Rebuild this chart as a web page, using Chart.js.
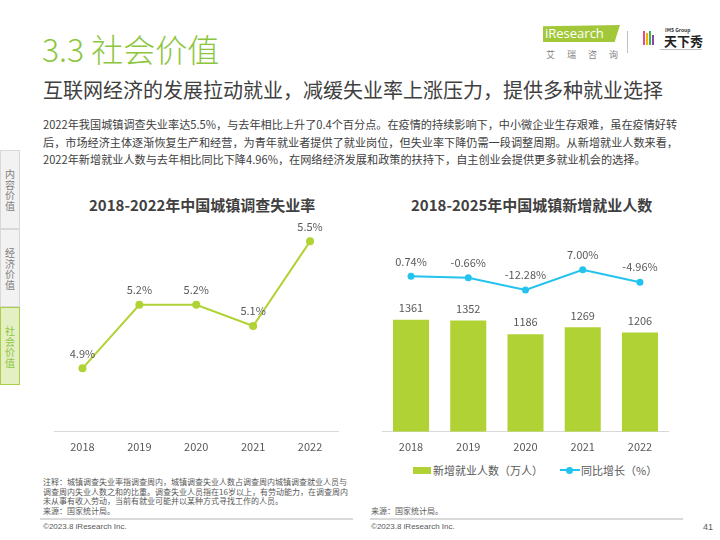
<!DOCTYPE html>
<html>
<head>
<meta charset="utf-8">
<script src="https://cdn.jsdelivr.net/npm/chart.js@4"></script>
<style>
  body { margin: 0; width: 720px; height: 540px; overflow: hidden; background: #fff;
         font-family: "Microsoft YaHei", "Noto Sans CJK SC", sans-serif; color: #404040; }
  .abs { position: absolute; white-space: nowrap; }
  .tab { position: absolute; left: 0; width: 20px; background: #f2f2f2; border: 1px solid #d9d9d9;
         color: #7f7f7f; font-size: 10px; line-height: 10.5px; text-align: center;
         box-sizing: border-box; padding-top: 18px; }
  .tab.on { background: #e4efc4; border-color: #a8cf45; color: #8cc63f; }
  .para { font-size: 11.15px; left: 43px; }
  .note { font-size: 8px; color: #595959; }
  .sep { position: absolute; height: 2px; background: #d9d9d9; }
</style>
</head>
<body>
<div class="abs" style="left:42px;top:25px;font-size:32px;color:#8cc63f;font-weight:300;">3.3 社会价值</div>

<div class="abs" style="left:543px;top:25px;width:75px;height:17px;background:#a2c83a;clip-path:polygon(0 8%,100% 0,93% 100%,0 100%);color:#fff;font-size:13px;line-height:17px;font-family:'Open Sans',sans-serif;padding-left:2px;">iResearch</div>
<div class="abs" style="left:546px;top:48px;font-size:9px;color:#7f7f7f;letter-spacing:12px;">艾瑞咨询</div>
<div class="abs" style="left:627px;top:31px;width:1px;height:22px;background:#bfbfbf;"></div>
<div class="abs" style="left:643px;top:31px;width:2px;height:14px;background:#e64c8c;"></div>
<div class="abs" style="left:646px;top:33px;width:2px;height:12px;background:#f4b400;"></div>
<div class="abs" style="left:649px;top:31px;width:2px;height:14px;background:#3ab54a;"></div>
<div class="abs" style="left:652px;top:35px;width:2px;height:10px;background:#8e44ad;"></div>
<div class="abs" style="left:665px;top:26px;font-size:5px;color:#333;font-weight:bold;">IMS Group</div>
<div class="abs" style="left:664px;top:31px;font-size:13px;color:#222;font-weight:bold;">天下秀</div>
<div class="abs" style="left:660px;top:49px;width:42px;height:1px;background:#bfbfbf;"></div>

<div class="abs" style="left:43px;top:75px;font-size:20px;color:#404040;">互联网经济的发展拉动就业，减缓失业率上涨压力，提供多种就业选择</div>

<div class="abs para" style="top:116px;">2022年我国城镇调查失业率达5.5%，与去年相比上升了0.4个百分点。在疫情的持续影响下，中小微企业生存艰难，虽在疫情好转</div>
<div class="abs para" style="top:134px;">后，市场经济主体逐渐恢复生产和经营，为青年就业者提供了就业岗位，但失业率下降仍需一段调整周期。从新增就业人数来看，</div>
<div class="abs para" style="top:151px;">2022年新增就业人数与去年相比同比下降4.96%，在网络经济发展和政策的扶持下，自主创业会提供更多就业机会的选择。</div>

<div class="tab" style="top:150px;height:79px;">内<br>容<br>价<br>值</div>
<div class="tab" style="top:229px;height:78px;">经<br>济<br>价<br>值</div>
<div class="tab on" style="top:307px;height:78px;">社<br>会<br>价<br>值</div>

<div class="abs" style="left:89px;top:194px;font-size:15px;font-weight:bold;color:#404040;">2018-2022年中国城镇调查失业率</div>
<div class="abs" style="left:411px;top:194px;font-size:15px;font-weight:bold;color:#404040;">2018-2025年中国城镇新增就业人数</div>

<canvas id="rateChart" class="abs" width="295" height="246" style="left:50px;top:215px;"></canvas>
<canvas id="jobsChart" class="abs" width="310" height="246" style="left:370px;top:215px;"></canvas>

<div class="abs" style="left:413px;top:467px;width:18px;height:7px;background:#b1d235;"></div>
<div class="abs" style="left:433px;top:462px;font-size:11px;color:#595959;">新增就业人数（万人）</div>
<div class="abs" style="left:560px;top:469px;width:20px;height:2px;background:#22c3ee;"></div>
<div class="abs" style="left:566px;top:467px;width:7px;height:7px;border-radius:50%;background:#22c3ee;"></div>
<div class="abs" style="left:581px;top:462px;font-size:11px;color:#595959;">同比增长（%）</div>

<div class="abs note" style="left:43px;top:477px;line-height:9.7px;">注释：城镇调查失业率指调查周内，城镇调查失业人数占调查周内城镇调查就业人员与<br>调查周内失业人数之和的比重。调查失业人员指在16岁以上，有劳动能力，在调查周内<br>未从事有收入劳动，当前有就业可能并以某种方式寻找工作的人员。<br>来源：国家统计局。</div>
<div class="abs note" style="left:371px;top:505px;">来源：国家统计局。</div>
<div class="sep" style="left:40px;top:518px;width:313px;"></div>
<div class="sep" style="left:370px;top:518px;width:313px;"></div>
<div class="abs note" style="left:43px;top:522px;font-family:'Liberation Sans',sans-serif;">©2023.8 iResearch Inc.</div>
<div class="abs note" style="left:371px;top:522px;font-family:'Liberation Sans',sans-serif;">©2023.8 iResearch Inc.</div>
<div class="abs note" style="left:703px;top:522px;font-family:'Liberation Sans',sans-serif;font-size:9px;">41</div>

<script>
const years = ['2018', '2019', '2020', '2021', '2022'];
const unemploymentRate = [4.9, 5.2, 5.2, 5.1, 5.5];
const newJobs = [1361, 1352, 1186, 1269, 1206];
const jobsGrowth = [0.74, -0.66, -12.28, 7.00, -4.96];

const GREEN = '#b1d235';
const BLUE = '#22c3ee';
const FONT = '"Microsoft YaHei", "Noto Sans CJK SC", sans-serif';

// value labels above each point / bar
const valueLabels = {
  id: 'valueLabels',
  afterDatasetsDraw(chart, args, opts) {
    const ctx = chart.ctx;
    ctx.save();
    ctx.font = '11px ' + FONT;
    ctx.fillStyle = '#595959';
    ctx.textAlign = 'center';
    ctx.textBaseline = 'middle';
    chart.data.datasets.forEach((ds, i) => {
      const fmt = opts.formats[i];
      const off = opts.offsets[i];
      chart.getDatasetMeta(i).data.forEach((el, j) => {
        ctx.fillText(fmt(ds.data[j]), el.x, el.y - off);
      });
    });
    ctx.restore();
  }
};

const xAxis = {
  offset: true,
  grid: { display: false, drawTicks: false },
  border: { display: true, color: '#d9d9d9', width: 1 },
  ticks: { color: '#595959', padding: 8, font: { size: 11, family: FONT } }
};

new Chart(document.getElementById('rateChart'), {
  type: 'line',
  data: {
    labels: years,
    datasets: [{
      data: unemploymentRate,
      borderColor: GREEN,
      backgroundColor: GREEN,
      borderWidth: 2,
      pointRadius: 4,
      pointBorderWidth: 0,
      tension: 0
    }]
  },
  options: {
    responsive: false,
    animation: false,
    layout: { padding: { left: 3.5, right: 6.5, top: 20, bottom: 0 } },
    plugins: {
      legend: { display: false },
      tooltip: { enabled: false },
      valueLabels: { formats: [v => v.toFixed(1) + '%'], offsets: [15] }
    },
    scales: {
      x: xAxis,
      y: { display: false, min: 4.6, max: 5.53 }
    }
  },
  plugins: [valueLabels]
});

new Chart(document.getElementById('jobsChart'), {
  type: 'bar',
  data: {
    labels: years,
    datasets: [
      {
        type: 'bar',
        data: newJobs,
        backgroundColor: GREEN,
        categoryPercentage: 1,
        barPercentage: 0.63,
        yAxisID: 'y',
        order: 1
      },
      {
        type: 'line',
        data: jobsGrowth,
        borderColor: BLUE,
        backgroundColor: BLUE,
        borderWidth: 2,
        pointRadius: 3.5,
        pointBorderWidth: 0,
        tension: 0,
        yAxisID: 'y2',
        order: 0
      }
    ]
  },
  options: {
    responsive: false,
    animation: false,
    layout: { padding: { left: 12.4, right: 11.4, top: 20, bottom: 0 } },
    plugins: {
      legend: { display: false },
      tooltip: { enabled: false },
      valueLabels: {
        formats: [v => String(v), v => v.toFixed(2) + '%'],
        offsets: [12, 15]
      }
    },
    scales: {
      x: xAxis,
      y: { display: false, min: 0, max: 2391 },
      y2: { display: false, min: -148.7, max: 40.5 }
    }
  },
  plugins: [valueLabels]
});
</script>
</body>
</html>
